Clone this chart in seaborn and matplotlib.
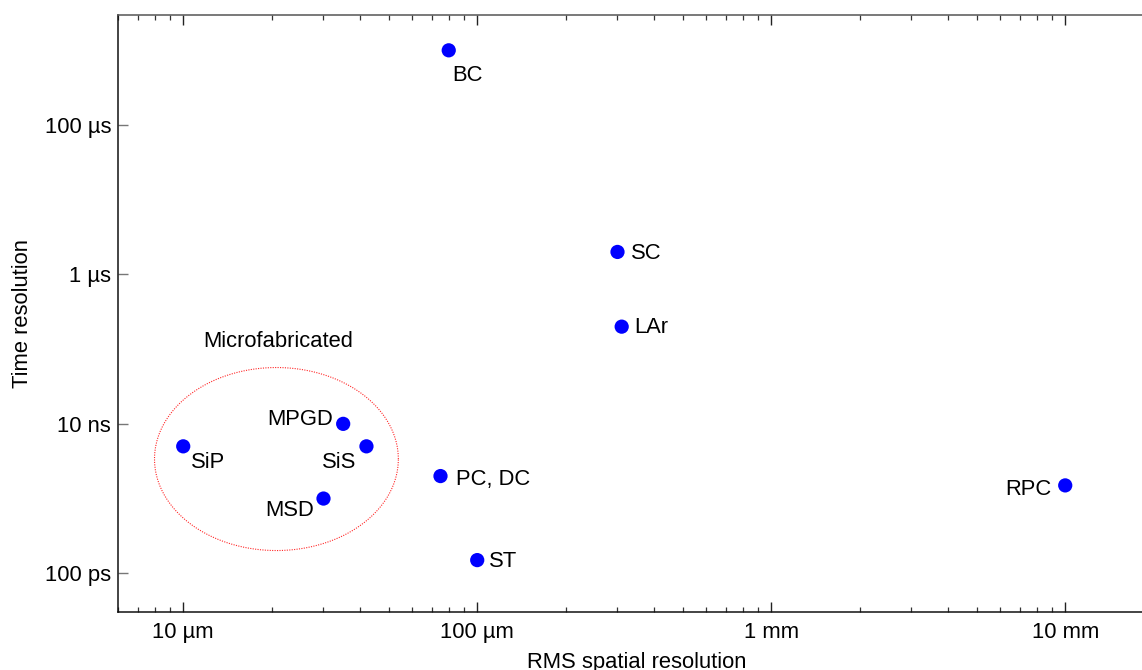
import numpy as np
import pandas as pd
import matplotlib
matplotlib.use("Agg")
import matplotlib.pyplot as plt
from matplotlib.ticker import FixedLocator, LogLocator, NullFormatter, NullLocator
import seaborn as sns

# ---- data ----
detectors = ["BC", "SC", "LAr", "MPGD", "SiS", "SiP", "MSD", "PC, DC", "ST", "RPC"]
spatial_um = [80, 300, 310, 35, 42, 10, 30, 75, 100, 10000]
time_s = [1e-3, 2e-6, 2e-7, 1e-8, 5e-9, 5e-9, 1e-9, 2e-9, 1.5e-10, 1.5e-9]

x_ticks = [10, 100, 1000, 10000]
x_ticklabels = ["10 µm", "100 µm", "1 mm", "10 mm"]
y_ticks = [1e-4, 1e-6, 1e-8, 1e-10]
y_ticklabels = ["100 µs", "1 µs", "10 ns", "100 ps"]

group_label = "Microfabricated"
# ellipse in log10 space (x in µm, y in s)
ell_cx, ell_cy = 1.317, -8.471
ell_hw, ell_hh = 0.4147, 1.225

# label placement (offset in px, horizontal alignment)
label_style = {
    "BC": (3.6, -31, "left"),
    "SC": (13, -6.6, "left"),
    "LAr": (13, -6.6, "left"),
    "MPGD": (-10, -1, "right"),
    "SiS": (-10, -21.6, "right"),
    "SiP": (7.4, -21.6, "left"),
    "MSD": (-9.3, -17.7, "right"),
    "PC, DC": (16, -9, "left"),
    "ST": (12, -6.7, "left"),
    "RPC": (-13.3, -9.3, "right"),
}

df = pd.DataFrame({"detector": detectors, "spatial": spatial_um, "time": time_s})

sns.set_style("ticks")
plt.rcParams["font.family"] = ["Liberation Sans", "DejaVu Sans"]
plt.rcParams["text.color"] = "black"
plt.rcParams["axes.labelcolor"] = "black"
plt.rcParams["xtick.labelcolor"] = "black"
plt.rcParams["ytick.labelcolor"] = "black"
FS = 15.8

W, H = 1142, 670
fig = plt.figure(figsize=(W / 100, H / 100), dpi=100)
left_px, right_px, top_px, bot_px = 118, 1155, 15, 612
ax = fig.add_axes([left_px / W, 1 - bot_px / H, (right_px - left_px) / W, (bot_px - top_px) / H])

sns.scatterplot(data=df, x="spatial", y="time", ax=ax, color="#0000FF",
                s=105, edgecolor="none", linewidth=0, zorder=3, legend=False)

ax.set_xscale("log")
ax.set_yscale("log")
ax.set_xlim(6, 20200)
ax.set_ylim(3.03e-11, 2.97e-3)

# ellipse
t = np.linspace(0, 2 * np.pi, 400)
ex = 10 ** (ell_cx + ell_hw * np.cos(t))
ey = 10 ** (ell_cy + ell_hh * np.sin(t))
ax.plot(ex, ey, color="#FF0000", lw=0.8, ls=(0, (1, 1.2)), alpha=0.85, zorder=2)
ax.annotate(group_label, xy=(10 ** ell_cx, 10 ** (ell_cy + ell_hh)),
            xytext=(2 * 0.72, 21 * 0.72), textcoords="offset points",
            ha="center", va="baseline", fontsize=FS, color="black")

for name, xv, yv in zip(detectors, spatial_um, time_s):
    dx, dy, ha = label_style[name]
    ax.annotate(name, xy=(xv, yv), xytext=(dx * 0.72, dy * 0.72),
                textcoords="offset points", ha=ha, va="baseline", fontsize=FS,
                color="black")

# ticks
ax.xaxis.set_major_locator(FixedLocator(x_ticks))
ax.set_xticklabels(x_ticklabels)
ax.xaxis.set_minor_locator(LogLocator(base=10, subs=np.arange(2, 10)))
ax.xaxis.set_minor_formatter(NullFormatter())
ax.yaxis.set_major_locator(FixedLocator(y_ticks))
ax.set_yticklabels(y_ticklabels)
ax.yaxis.set_minor_locator(NullLocator())

ax.tick_params(axis="x", which="major", direction="in", length=7, width=1.0,
               color="#222222", top=True, bottom=True, labelsize=FS, pad=7.5,
               labelcolor="black")
ax.tick_params(axis="x", which="minor", direction="in", length=3.3, width=0.9,
               color="#333333", top=True, bottom=True)
ax.tick_params(axis="y", which="major", direction="in", length=7, width=1.0,
               color="#777777", left=True, right=False, labelsize=FS, pad=5,
               labelcolor="black")

for side in ["left", "bottom", "top"]:
    ax.spines[side].set_visible(True)
    ax.spines[side].set_color("#111111")
    ax.spines[side].set_linewidth(1.1)
ax.spines["top"].set_color("#555555")
ax.spines["right"].set_visible(False)

ax.set_xlabel("RMS spatial resolution", fontsize=FS, color="black")
ax.set_ylabel("Time resolution", fontsize=FS, color="black")
ax.xaxis.set_label_coords(0.5, -(652 - bot_px) / (bot_px - top_px))
ax.yaxis.set_label_coords(-(left_px - 33) / (right_px - left_px), 0.5)

fig.savefig("out.png", dpi=100)
